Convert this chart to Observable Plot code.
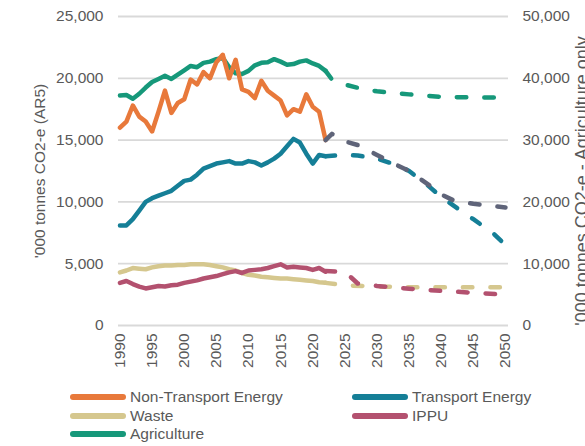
<!DOCTYPE html>
<html>
<head>
<meta charset="utf-8">
<script src="https://cdn.jsdelivr.net/npm/d3@7"></script>
<script src="https://cdn.jsdelivr.net/npm/@observablehq/plot@0.6"></script>
<style>
  html, body { margin: 0; padding: 0; background: #fff; }
  body { width: 585px; height: 446px; overflow: hidden; position: relative; font-family: "Liberation Sans", Arial, sans-serif; }
  #legend { position: absolute; left: 0; top: 388px; width: 585px; font-size: 15.5px; color: #595959; }
  .item { position: absolute; height: 18.5px; line-height: 18.5px; white-space: nowrap; }
  .sw { position: absolute; left: 0; top: 6px; width: 56px; height: 6px; border-radius: 3px; }
  .lab { position: absolute; left: 60px; top: 0; }
</style>
</head>
<body>
<div id="chart"></div>
<div id="legend"></div>
<script>
// ---------- data ----------
const years = d3.range(1990, 2023); // 1990..2022 historic
const nonTransport = [16000,16500,17800,16900,16500,15700,17300,19000,17200,18000,18300,19900,19500,20500,20000,21300,21900,20000,21500,19100,18900,18400,19800,19000,18600,18200,17000,17500,17300,18700,17700,17300,15000];
const transport    = [8100,8100,8600,9300,10000,10300,10500,10700,10900,11300,11700,11800,12200,12700,12900,13100,13200,13300,13100,13100,13300,13200,12950,13200,13500,13900,14500,15100,14800,13900,13100,13800,13700];
const waste        = [4300,4450,4650,4600,4550,4700,4800,4850,4850,4900,4900,4950,4950,4950,4900,4800,4700,4550,4450,4250,4100,4050,3950,3900,3850,3800,3800,3750,3700,3650,3600,3500,3450];
const ippu         = [3450,3600,3350,3150,3000,3100,3200,3150,3250,3300,3450,3550,3650,3800,3900,4000,4150,4300,4400,4250,4450,4500,4550,4650,4800,4950,4700,4750,4700,4650,4500,4650,4350];
const agriculture  = [37200,37300,36700,37500,38500,39400,39900,40400,39900,40600,41300,42000,41800,42500,42700,43100,43300,41800,40800,40700,41200,42100,42500,42600,43100,42700,42200,42300,42700,42900,42400,42000,41200]; // right axis

const nteProjYears = [2022,2023,2025,2027,2030,2033,2035,2038,2040,2042,2045,2050];
const nteProj      = [15000,15500,14900,14600,13800,13000,12500,11400,10600,10100,9850,9550];
const trProjYears  = [2022,2025,2027,2030,2033,2035,2038,2040,2043,2045,2048,2050];
const trProj       = [13700,13800,13750,13500,13000,12500,11300,10400,9300,8600,7500,6500];
const wasteProjYears = [2022,2025,2030,2035,2040,2045,2050];
const wasteProj      = [3450,3250,3150,3100,3100,3100,3100];
const ippuProjYears  = [2022,2025,2027,2030,2035,2040,2045,2050];
const ippuProj       = [4400,4350,3400,3200,2980,2800,2650,2500];
const agriProjYears  = [2022,2023,2025,2028,2030,2035,2040,2045,2050];
const agriProj       = [41200,39800,39000,38200,37900,37400,37000,36900,36900];

const leftTicks = [0,5000,10000,15000,20000,25000];
const xTicks = [1990,1995,2000,2005,2010,2015,2020,2025,2030,2035,2040,2045,2050];

const categories = ["Non-Transport Energy","Transport Energy","Waste","IPPU","Agriculture"];
const colors = {"Non-Transport Energy":"#e8793b","Transport Energy":"#157f97","Waste":"#d5c78e","IPPU":"#b3516f","Agriculture":"#16987a"};
const projNteColor = "#5f6479";
const leftLabel = "'000 tonnes CO2-e (AR5)";
const rightLabel = "'000 tonnes CO2-e - Agriculture only";

// ---------- build tables ----------
const rows = (ys, vs, s, scale = 1) => ys.map((y, i) => ({year: y, value: vs[i] / scale, series: s}));
const hist = [
  ...rows(years, waste, "Waste"),
  ...rows(years, ippu, "IPPU"),
  ...rows(years, agriculture, "Agriculture", 2),
  ...rows(years, transport, "Transport Energy"),
  ...rows(years, nonTransport, "Non-Transport Energy")
];
const projOther = [
  ...rows(wasteProjYears, wasteProj, "Waste"),
  ...rows(ippuProjYears, ippuProj, "IPPU"),
  ...rows(agriProjYears, agriProj, "Agriculture", 2),
  ...rows(trProjYears, trProj, "Transport Energy")
];
const projNte = rows(nteProjYears, nteProj, "Non-Transport Energy");

const lineOpts = {strokeWidth: 4.5, strokeLinecap: "round", strokeLinejoin: "round"};
const dash = "9.5,18";

const chart = Plot.plot({
  width: 585,
  height: 378,
  marginLeft: 118,
  marginRight: 77,
  marginTop: 16,
  marginBottom: 53,
  style: {fontFamily: "'Liberation Sans', Arial, sans-serif", fontSize: "15.5px", color: "#595959", background: "#fff"},
  x: {domain: [1989.77, 2050.47]},
  y: {domain: [0, 25000]},
  color: {domain: categories, range: categories.map(c => colors[c])},
  marks: [
    Plot.ruleY(leftTicks, {stroke: "#d9d9d9", strokeWidth: 1.8}),
    Plot.axisY({ticks: leftTicks, tickSize: 0, tickPadding: 15, tickFormat: d3.format(","), label: null}),
    Plot.axisY({anchor: "right", ticks: leftTicks, tickSize: 0, tickPadding: 14, tickFormat: d => d3.format(",")(d * 2), label: null}),
    Plot.axisX({ticks: xTicks, tickRotate: -90, tickSize: 0, tickPadding: 8, tickFormat: d => String(d), label: null}),
    Plot.line(hist, {x: "year", y: "value", z: "series", stroke: "series", ...lineOpts}),
    Plot.line(projOther, {x: "year", y: "value", z: "series", stroke: "series", strokeDasharray: dash, ...lineOpts}),
    Plot.line(projNte, {x: "year", y: "value", stroke: projNteColor, strokeDasharray: dash, ...lineOpts}),
    Plot.text([leftLabel], {text: d => d, frameAnchor: "left", textAnchor: "middle", dx: -78, rotate: -90, fill: "#595959", fontSize: 15.5}),
    Plot.text([rightLabel], {text: d => d, frameAnchor: "right", textAnchor: "middle", dx: 73.5, dy: 10, rotate: -90, fill: "#595959", fontSize: 18})
  ]
});
document.getElementById("chart").appendChild(chart);

// ---------- legend ----------
const legend = document.getElementById("legend");
const pos = [[70,0],[352,0],[70,1],[352,1],[70,2]];
categories.forEach((c, i) => {
  const it = document.createElement("div");
  it.className = "item";
  it.style.left = pos[i][0] + "px";
  it.style.top = (pos[i][1] * 18.5) + "px";
  const sw = document.createElement("span");
  sw.className = "sw";
  sw.style.background = colors[c];
  const lab = document.createElement("span");
  lab.className = "lab";
  lab.textContent = c;
  it.appendChild(sw); it.appendChild(lab);
  legend.appendChild(it);
});
</script>
</body>
</html>
